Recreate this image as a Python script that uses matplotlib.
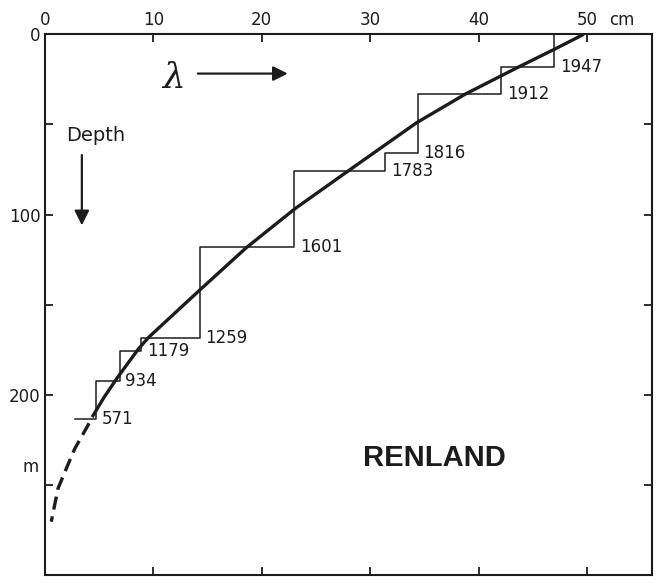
import matplotlib
matplotlib.use("Agg")
import matplotlib.pyplot as plt
from matplotlib.transforms import blended_transform_factory

# -----------------------------
# Data
# -----------------------------
# staircase: annual layer thickness corners, top to bottom
years = [1947, 1912, 1816, 1783, 1601, 1259, 1179, 934, 571]
step_x = [47.0, 42.1, 34.4, 31.4, 23.0, 14.3, 8.9, 6.9, 4.7]
step_depth = [18.1, 33.3, 66.0, 76.1, 118.1, 168.6, 175.6, 192.2, 213.4]
step_end_x = 2.8

# smooth model curve (solid part)
curve_x = [49.7, 47.1, 43.7, 38.8, 34.3, 27.9, 23.1, 18.55,
           14.35, 9.55, 8.6, 6.7, 5.45, 4.35]
curve_depth = [0, 8.0, 18.1, 33.1, 49.0, 76.1, 96.6, 118.5,
               141.5, 168.2, 174.7, 190.3, 201.4, 212.4]

# extrapolated (dashed) part
dash_x = [4.35, 3.96, 2.74, 1.96, 1.2, 0.58]
dash_depth = [212.4, 217.0, 230.0, 241.0, 252.0, 270.4]

x_ticks = [0, 10, 20, 30, 40, 50]
x_tick_labels = ["0", "10", "20", "30", "40", "50"]
y_ticks = [0, 50, 100, 150, 200, 250]
y_tick_labels = ["0", "", "100", "", "200", ""]

INK = "#1c1c1c"

plt.rcParams["font.family"] = ["DejaVu Sans"]
plt.rcParams["lines.scale_dashes"] = False

fig = plt.figure(figsize=(6.63, 5.83), dpi=100)
ax = fig.add_axes([45 / 663, 1 - 575 / 583, 607 / 663, (575 - 34.3) / 583])

ax.set_xlim(0, 56)
ax.set_ylim(300, 0)

# -----------------------------
# Marks
# -----------------------------
ax.step(step_x + [step_end_x], [0] + step_depth, where="pre",
        color=INK, lw=1.1)
ax.plot(curve_x, curve_depth, color=INK, lw=2.4, solid_capstyle="butt",
        solid_joinstyle="round")
ax.plot(dash_x, dash_depth, color=INK, lw=2.4,
        linestyle=(9.5, (9.5, 5.0)), dash_capstyle="butt")

for yr, x, d in zip(years, step_x, step_depth):
    ax.annotate(str(yr), xy=(x, d), xytext=(4, 0), textcoords="offset points",
                ha="left", va="center", fontsize=12, color=INK)

# -----------------------------
# Annotations
# -----------------------------
ax.text(11.9, 24, "λ", fontsize=26, family="DejaVu Serif", style="italic",
        ha="center", va="center", color=INK)
ax.annotate("", xy=(22.4, 21.8), xytext=(14.1, 21.8),
            arrowprops=dict(arrowstyle="-|>", color=INK, lw=1.6,
                            mutation_scale=22, shrinkA=0, shrinkB=0))

ax.text(4.7, 56, "Depth", fontsize=14, ha="center", va="center", color=INK)
ax.annotate("", xy=(3.4, 106), xytext=(3.4, 67),
            arrowprops=dict(arrowstyle="-|>", color=INK, lw=1.6,
                            mutation_scale=22, shrinkA=0, shrinkB=0))

ax.text(35.9, 235, "RENLAND", fontsize=21, fontweight="bold",
        family="Liberation Sans", ha="center", va="center", color=INK)

# -----------------------------
# Axes styling
# -----------------------------
for sp in ax.spines.values():
    sp.set_linewidth(1.5)
    sp.set_color(INK)

ax.xaxis.tick_top()
ax.set_xticks(x_ticks)
ax.set_xticklabels(x_tick_labels)
ax.tick_params(axis="x", which="both", top=True, bottom=True,
               labeltop=True, labelbottom=False, direction="in",
               length=6, width=1.3, pad=4, labelsize=12, colors=INK)

ax.set_yticks(y_ticks)
ax.set_yticklabels(y_tick_labels)
ax.tick_params(axis="y", which="both", left=True, right=True,
               labelleft=True, labelright=False, direction="in",
               length=6, width=1.3, pad=3, labelsize=12, colors=INK)

trans = blended_transform_factory(ax.transData, ax.transAxes)
ax.annotate("cm", xy=(53.2, 1.0), xycoords=trans, xytext=(0, 4),
            textcoords="offset points", ha="center", va="bottom",
            fontsize=12, color=INK)

trans_y = blended_transform_factory(ax.transAxes, ax.transData)
ax.text(-0.011, 240, "m", transform=trans_y, ha="right", va="center",
        fontsize=12, color=INK)

fig.savefig("out.png", dpi=100)
